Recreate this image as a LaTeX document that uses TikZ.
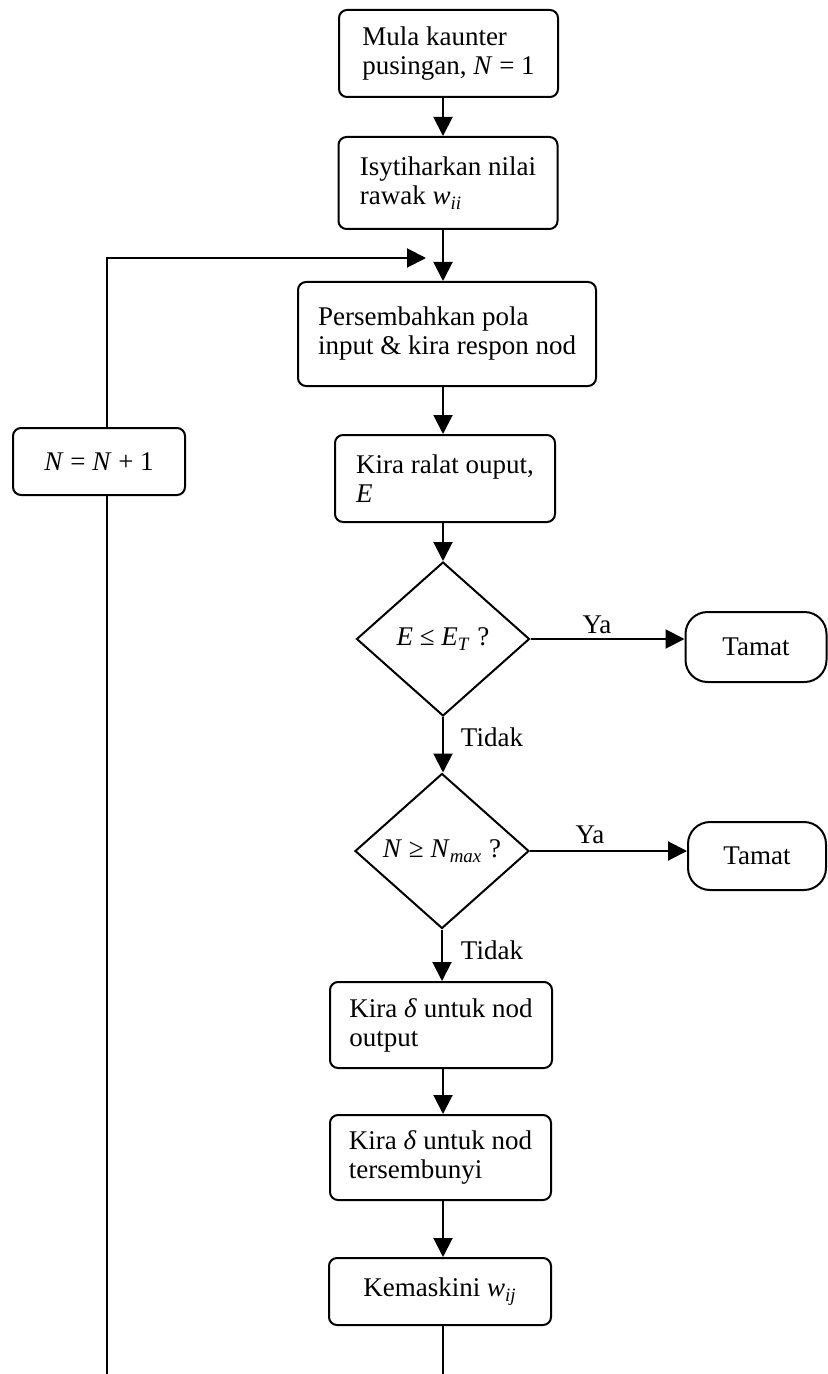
\documentclass[tikz,border=0pt]{standalone}
\usepackage{fontspec}
\setmainfont{Liberation Serif}
\usetikzlibrary{shapes.geometric,arrows.meta}
\begin{document}
\begin{tikzpicture}[x=0.5pt,y=-0.5pt,
  every node/.style={font=\fontsize{13.5}{14.5}\selectfont},
  box/.style={draw,line width=1pt,rounded corners=4pt,align=left,inner sep=0pt},
  endbox/.style={draw,line width=1pt,rounded corners=11pt,inner sep=0pt},
  decision/.style={draw,line width=1pt,diamond,inner sep=0pt,aspect=1.1},
  lbl/.style={inner sep=0pt},
  arr/.style={line width=1pt,-{Triangle[length=9.5pt,width=9.5pt]}},
  ln/.style={line width=1pt}]
\useasboundingbox (0,0) rectangle (828,1374);

\node[box,minimum width=109.5pt,minimum height=43.5pt] (b1) at (448.5,53.5) {Mula kaunter\\pusingan, \textit{N} = 1};
\node[box,minimum width=109.5pt,minimum height=46pt] (b2) at (448,183) {Isytiharkan nilai\\rawak \textit{w}\textsubscript{\textit{ii}}};
\node[box,minimum width=149pt,minimum height=52pt] (b3) at (447,334) {Persembahkan pola\\input \& kira respon nod};
\node[box,minimum width=110pt,minimum height=43.5pt] (b4) at (445,478.5) {Kira ralat ouput,\\\textit{E}};
\node[decision,minimum width=86.5pt,minimum height=77pt] (d1) at (443,639) {\textit{E} ≤ \textit{E}\textsubscript{\textit{T}} ?};
\node[endbox,minimum width=70.5pt,minimum height=35pt] (t1) at (756,647) {Tamat};
\node[decision,minimum width=87pt,minimum height=77.5pt] (d2) at (442,851) {\textit{N} ≥ \textit{N}\textsubscript{\textit{max}} ?};
\node[endbox,minimum width=69pt,minimum height=34pt] (t2) at (757,856) {Tamat};
\node[box,minimum width=111pt,minimum height=43pt] (b5) at (441,1025) {Kira \textit{δ} untuk nod\\output};
\node[box,minimum width=110.5pt,minimum height=42.5pt] (b6) at (440.5,1157.5) {Kira \textit{δ} untuk nod\\tersembunyi};
\node[box,minimum width=111pt,minimum height=33.5pt] (b7) at (440,1291.5) {Kemaskini \textit{w}\textsubscript{\textit{ij}}};
\node[box,minimum width=86pt,minimum height=33.5pt] (bn) at (99,461.5) {\textit{N} = \textit{N} + 1};

\node[lbl] (ya1) at (597,625) {Ya};
\node[lbl] (ya2) at (590,835) {Ya};
\node[lbl] (td1) at (492,737) {Tidak};
\node[lbl] (td2) at (492,950) {Tidak};

\coordinate (lb) at (107,1374);
\coordinate (lt) at (107,258);
\coordinate (tip) at (426,258);
\coordinate (bb) at (443,1374);

\draw[arr] (b1.south -| d1.center) -- (b2.north -| d1.center);
\draw[arr] (b2.south -| d1.center) -- (b3.north -| d1.center);
\draw[arr] (b3.south -| d1.center) -- (b4.north -| d1.center);
\draw[arr] (b4.south -| d1.center) -- (d1.north);
\draw[arr] (d1.east) -- (d1.east -| t1.west);
\draw[arr] (d1.south) -- (d2.north -| d1.south);
\draw[arr] (d2.east) -- (d2.east -| t2.west);
\draw[arr] (d2.south) -- (b5.north -| d2.south);
\draw[arr] (b5.south -| d1.center) -- (b6.north -| d1.center);
\draw[arr] (b6.south -| d1.center) -- (b7.north -| d1.center);
\draw[ln] (b7.south -| d1.center) -- (bb);
\draw[ln] (lb) -- (bn.south -| lb);
\draw[arr] (bn.north -| lb) -- (lt) -- (tip);
\end{tikzpicture}
\end{document}
